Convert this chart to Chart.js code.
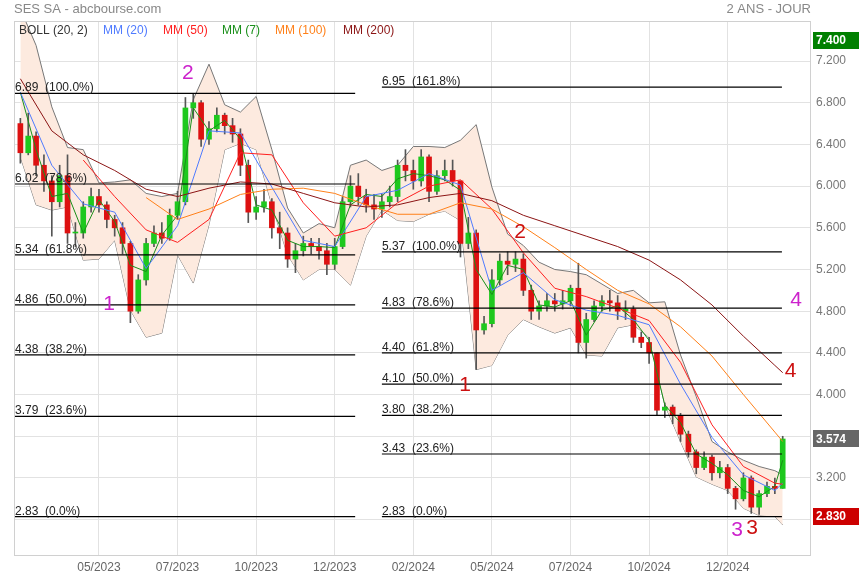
<!DOCTYPE html>
<html lang="fr">
<head>
<meta charset="UTF-8">
<title>SES SA - abcbourse.com</title>
<script src="https://cdn.jsdelivr.net/npm/chart.js"></script>
<style>
    html, body { margin: 0; padding: 0; background: #fff; }
    #wrap { width: 860px; height: 580px; }
</style>
</head>
<body>
<div id="wrap"><canvas id="chart" width="860" height="580"></canvas></div>
<script>
// x axis: one label every 10 bars (bar = about one week)
var monthTicks  = [10, 20, 30, 40, 50, 60, 70, 80, 90];
var monthLabels = ['05/2023', '07/2023', '10/2023', '12/2023', '02/2024', '05/2024', '07/2024', '10/2024', '12/2024'];
var priceTicks  = [2.8, 3.2, 3.6, 4.0, 4.4, 4.8, 5.2, 5.6, 6.0, 6.4, 6.8, 7.2];

// candles
var opens  = [6.60, 6.32, 6.48, 6.20, 6.05, 5.85, 6.10, 5.55, 5.55, 5.80,
              5.90, 5.82, 5.68, 5.60, 5.45, 4.80, 5.10, 5.45, 5.55, 5.50,
              5.72, 5.85, 6.75, 6.80, 6.45, 6.55, 6.68, 6.58, 6.50, 6.20,
              5.75, 5.80, 5.85, 5.60, 5.55, 5.30, 5.38, 5.45, 5.42, 5.38,
              5.25, 5.42, 5.85, 6.00, 5.90, 5.82, 5.78, 5.85, 5.90, 6.20,
              6.15, 6.05, 6.28, 5.95, 6.10, 6.15, 6.05, 5.45, 5.55, 4.62,
              4.68, 5.10, 5.28, 5.25, 5.30, 5.00, 4.80, 4.85, 4.90, 4.87,
              4.90, 5.02, 4.50, 4.72, 4.85, 4.90, 4.88, 4.80, 4.82, 4.55,
              4.50, 4.40, 3.85, 3.88, 3.80, 3.62, 3.45, 3.30, 3.40, 3.25,
              3.30, 3.10, 3.00, 3.20, 2.92, 3.05, 3.12, 3.10];
var highs  = [6.65, 6.70, 6.52, 6.30, 6.10, 6.20, 6.30, 5.65, 5.85, 5.98,
              5.97, 5.85, 5.72, 5.65, 5.47, 5.15, 5.50, 5.62, 5.65, 5.78,
              5.95, 6.85, 6.89, 6.82, 6.62, 6.75, 6.70, 6.65, 6.55, 6.25,
              5.90, 5.97, 5.88, 5.75, 5.60, 5.45, 5.52, 5.50, 5.50, 5.45,
              5.50, 5.90, 6.10, 6.12, 5.97, 5.92, 5.92, 6.00, 6.25, 6.35,
              6.25, 6.35, 6.30, 6.15, 6.25, 6.25, 6.05, 5.70, 5.58, 4.75,
              5.20, 5.35, 5.37, 5.37, 5.35, 5.05, 4.90, 4.97, 4.97, 5.00,
              5.05, 5.26, 4.78, 4.90, 4.95, 5.00, 4.95, 4.90, 4.85, 4.60,
              4.55, 4.40, 3.92, 3.90, 3.82, 3.65, 3.47, 3.45, 3.42, 3.36,
              3.33, 3.12, 3.25, 3.22, 3.08, 3.16, 3.20, 3.60];
var lows   = [6.22, 6.30, 6.10, 5.95, 5.52, 5.80, 5.45, 5.42, 5.50, 5.75,
              5.75, 5.60, 5.52, 5.35, 4.69, 4.78, 5.05, 5.42, 5.45, 5.48,
              5.68, 5.82, 6.65, 6.38, 6.40, 6.52, 6.50, 6.42, 6.10, 5.65,
              5.68, 5.75, 5.50, 5.40, 5.22, 5.17, 5.33, 5.35, 5.30, 5.15,
              5.20, 5.40, 5.80, 5.82, 5.75, 5.68, 5.70, 5.80, 5.85, 6.05,
              5.97, 6.00, 5.85, 5.92, 6.05, 6.00, 5.32, 5.40, 4.24, 4.58,
              4.65, 5.05, 5.15, 5.18, 4.95, 4.72, 4.72, 4.80, 4.80, 4.82,
              4.85, 4.40, 4.35, 4.70, 4.80, 4.80, 4.72, 4.72, 4.50, 4.45,
              4.30, 3.80, 3.78, 3.72, 3.55, 3.40, 3.24, 3.28, 3.18, 3.20,
              3.05, 2.90, 2.98, 2.86, 2.85, 3.02, 3.05, 3.10];
var closes = [6.32, 6.48, 6.20, 6.05, 5.85, 6.10, 5.55, 5.55, 5.80, 5.90,
              5.82, 5.68, 5.60, 5.45, 4.80, 5.10, 5.45, 5.55, 5.50, 5.72,
              5.85, 6.75, 6.80, 6.45, 6.55, 6.68, 6.58, 6.50, 6.20, 5.75,
              5.80, 5.85, 5.60, 5.55, 5.30, 5.38, 5.45, 5.42, 5.38, 5.25,
              5.42, 5.85, 6.00, 5.90, 5.82, 5.78, 5.85, 5.90, 6.20, 6.15,
              6.05, 6.28, 5.95, 6.10, 6.15, 6.05, 5.45, 5.55, 4.62, 4.68,
              5.10, 5.28, 5.25, 5.30, 5.00, 4.80, 4.85, 4.90, 4.87, 4.90,
              5.02, 4.50, 4.72, 4.85, 4.90, 4.88, 4.80, 4.82, 4.55, 4.50,
              4.40, 3.85, 3.88, 3.80, 3.62, 3.45, 3.30, 3.40, 3.25, 3.30,
              3.10, 3.00, 3.20, 2.92, 3.05, 3.12, 3.10, 3.574];

// Bollinger (20, 2) and MM (7), read every 2 bars
var bbX     = [0, 2, 4, 6, 8, 10, 12, 14, 16, 18, 20, 22, 24, 26, 28, 30, 32, 34, 36, 38,
               40, 42, 44, 46, 48, 50, 52, 54, 56, 58, 60, 62, 64, 66, 68, 70, 72, 74, 76, 78,
               80, 82, 84, 86, 88, 90, 92, 94, 96, 97];
var bbUpper = [7.70, 7.35, 6.76, 6.37, 6.35, 6.03, 6.04, 6.06, 5.93, 5.90, 5.93, 6.83, 7.17, 6.78, 6.71, 6.86, 6.35, 5.79, 5.55, 5.64,
               5.60, 6.20, 6.25, 6.15, 6.20, 6.38, 6.38, 6.37, 6.44, 6.59, 5.99, 5.54, 5.43, 5.27, 5.20, 5.18, 5.15, 5.06, 4.97, 5.00,
               4.88, 4.89, 4.38, 3.98, 3.55, 3.45, 3.37, 3.31, 3.27, 3.23];
var bbLower = [6.28, 5.82, 5.77, 5.80, 5.29, 5.30, 5.48, 4.81, 4.55, 4.59, 5.34, 5.07, 5.63, 6.35, 6.41, 6.35, 5.82, 5.34, 5.10, 5.20,
               5.20, 5.05, 5.52, 5.77, 5.67, 5.66, 5.73, 5.76, 5.67, 4.24, 4.28, 4.57, 4.72, 4.65, 4.59, 4.64, 4.38, 4.37, 4.64, 4.67,
               4.55, 3.90, 3.55, 3.21, 3.14, 3.08, 2.91, 2.84, 2.83, 2.75];
var mm7     = [6.90, 6.35, 5.90, 5.93, 5.55, 5.87, 5.66, 5.24, 5.18, 5.53, 5.72, 6.75, 6.53, 6.63, 6.45, 5.82, 5.77, 5.48, 5.42, 5.42,
               5.41, 5.82, 5.92, 5.90, 6.07, 6.12, 6.10, 6.06, 5.96, 5.20, 4.96, 5.24, 5.20, 4.86, 4.84, 4.90, 4.57, 4.81, 4.85, 4.72,
               4.52, 3.90, 3.73, 3.43, 3.34, 3.23, 3.08, 3.02, 3.12, 3.37];

// longer averages, read every 4 bars
var maX   = [0, 4, 8, 12, 16, 20, 24, 28, 32, 36, 40, 44, 48, 52, 56, 60, 64, 68, 72, 76, 80, 84, 88, 92, 96, 97];
var mm20  = [6.90, 6.20, 5.83, 5.75, 5.21, 5.62, 6.53, 6.51, 5.99, 5.48, 5.42, 5.90, 5.96, 6.12, 6.01, 5.00, 5.17, 4.91, 4.81, 4.76, 4.67, 4.10, 3.59, 3.23, 3.08, 3.15];
var mm50  = [null, null, 6.25, 5.90, 5.58, 5.46, 5.68, 6.32, 6.30, 5.84, 5.52, 5.60, 5.84, 6.00, 6.06, 5.78, 5.36, 5.02, 4.94, 4.83, 4.71, 4.31, 3.71, 3.31, 3.15, 3.14];
var mm100 = [null, null, null, null, 5.89, 5.68, 5.78, 5.92, 5.97, 5.98, 5.93, 5.82, 5.73, 5.73, 5.84, 5.78, 5.61, 5.41, 5.20, 5.00, 4.87, 4.65, 4.37, 4.00, 3.64, 3.55];
var mm200 = [7.03, 6.53, 6.30, 6.15, 5.97, 5.90, 5.98, 6.04, 6.02, 5.93, 5.84, 5.80, 5.82, 5.89, 5.93, 5.86, 5.72, 5.62, 5.52, 5.42, 5.29, 5.10, 4.86, 4.56, 4.28, 4.21];

// Fibonacci retracements
var fibLeftLevels  = [6.89, 6.02, 5.34, 4.86, 4.38, 3.79, 2.83];
var fibLeftPct     = ['100.0%', '78.6%', '61.8%', '50.0%', '38.2%', '23.6%', '0.0%'];
var fibLeftSpan    = [-0.81, 42.6];
var fibRightLevels = [6.95, 5.37, 4.83, 4.40, 4.10, 3.80, 3.43, 2.83];
var fibRightPct    = ['161.8%', '100.0%', '78.6%', '61.8%', '50.0%', '38.2%', '23.6%', '0.0%'];
var fibRightSpan   = [46.0, 96.9];

// Elliott wave counts
var waveText  = ['1', '2', '3', '4', '1', '2', '3', '4'];
var waveX     = [11.3, 21.3, 91.2, 98.7, 56.6, 63.6, 93.1, 98.0];
var waveY     = [4.87, 7.08, 2.70, 4.91, 4.09, 5.56, 2.72, 4.22];
var waveColor = ['#cc22cc', '#cc22cc', '#cc22cc', '#cc22cc', '#cc1111', '#cc1111', '#cc1111', '#cc1111'];

// price tags on the right axis
var tagValues = [7.4, 3.574, 2.83];
var tagColors = ['#008000', '#666666', '#cc0000'];

var FONT = '"Liberation Sans", Arial, sans-serif';
Chart.defaults.font.family = FONT;

function pts(xs, ys) {
    return xs.map(function (x, k) { return { x: x, y: ys[k] }; });
}
var barIdx = closes.map(function (c, i) { return i; });

var datasets = [];

// bands first, fill between upper and lower
datasets.push({ type: 'line', data: pts(bbX, bbUpper), borderColor: '#777', borderWidth: 1,
    pointRadius: 0, fill: '+1', backgroundColor: '#fdeadf', order: 10 });
datasets.push({ type: 'line', data: pts(bbX, bbLower), borderColor: '#777', borderWidth: 1,
    pointRadius: 0, fill: false, order: 10 });

// wicks and bodies
datasets.push({ type: 'bar', grouped: false, barThickness: 1, order: 6,
    data: barIdx.map(function (i) { return { x: i, y: [lows[i], highs[i]] }; }),
    backgroundColor: '#555' });
datasets.push({ type: 'bar', grouped: false, barThickness: 5, order: 5,
    data: barIdx.map(function (i) { return { x: i, y: [opens[i], closes[i]] }; }),
    backgroundColor: barIdx.map(function (i) { return closes[i] >= opens[i] ? '#1ec81e' : '#dd1111'; }),
    minBarLength: 1 });

// moving averages
var maSets = [
    [maX, mm200, '#8b1414'],
    [maX, mm100, '#ff8019'],
    [maX, mm50, '#ff1f1f'],
    [maX, mm20, '#4f7bff'],
    [bbX, mm7, '#1a8f1a']
];
maSets.forEach(function (m) {
    datasets.push({ type: 'line', data: pts(m[0], m[1]), borderColor: m[2], borderWidth: 1,
        pointRadius: 0, fill: false, order: 3 });
});

// fibonacci lines
fibLeftLevels.forEach(function (lv) {
    datasets.push({ type: 'line', data: pts(fibLeftSpan, [lv, lv]), borderColor: '#000', borderWidth: 1.2,
        pointRadius: 0, fill: false, order: 1 });
});
fibRightLevels.forEach(function (lv) {
    datasets.push({ type: 'line', data: pts(fibRightSpan, [lv, lv]), borderColor: '#000', borderWidth: 1.2,
        pointRadius: 0, fill: false, order: 1 });
});

var overlay = {
    id: 'overlay',
    afterDatasetsDraw: function (chart) {
        var ctx = chart.ctx, xs = chart.scales.x, ys = chart.scales.y;
        ctx.save();
        ctx.font = '12px ' + FONT;
        ctx.fillStyle = '#222';
        ctx.textAlign = 'left';
        ctx.textBaseline = 'alphabetic';
        fibLeftLevels.forEach(function (lv, k) {
            ctx.fillText(lv.toFixed(2) + '  (' + fibLeftPct[k] + ')', xs.getPixelForValue(fibLeftSpan[0]) + 1, ys.getPixelForValue(lv) - 2);
        });
        fibRightLevels.forEach(function (lv, k) {
            ctx.fillText(lv.toFixed(2) + '  (' + fibRightPct[k] + ')', xs.getPixelForValue(fibRightSpan[0]), ys.getPixelForValue(lv) - 2);
        });
        ctx.font = '21px ' + FONT;
        ctx.textAlign = 'center';
        ctx.textBaseline = 'middle';
        waveText.forEach(function (t, k) {
            ctx.fillStyle = waveColor[k];
            ctx.fillText(t, xs.getPixelForValue(waveX[k]), ys.getPixelForValue(waveY[k]));
        });
        ctx.restore();
    },
    afterDraw: function (chart) {
        var ctx = chart.ctx, a = chart.chartArea, ys = chart.scales.y;
        ctx.save();
        ctx.strokeStyle = '#d0d0d0';
        ctx.lineWidth = 1;
        ctx.strokeRect(a.left + 0.5, a.top + 0.5, a.right - a.left - 1, a.bottom - a.top);

        ctx.font = '13px ' + FONT;
        ctx.fillStyle = '#888';
        ctx.textBaseline = 'middle';
        ctx.textAlign = 'left';
        ctx.fillText('SES SA - abcbourse.com', 14, 9);
        ctx.textAlign = 'right';
        ctx.fillText('2 ANS - JOUR', 811, 9);

        // legend row inside the plot
        var legend = [['BOLL (20, 2)', '#333', 19], ['MM (20)', '#4f7bff', 103], ['MM (50)', '#ff1f1f', 163],
                      ['MM (7)', '#1a8f1a', 222], ['MM (100)', '#ff8019', 275], ['MM (200)', '#8b1414', 343]];
        ctx.font = '12px ' + FONT;
        ctx.textAlign = 'left';
        legend.forEach(function (l) {
            ctx.fillStyle = l[1];
            ctx.fillText(l[0], l[2], 31);
        });

        // value tags
        ctx.font = 'bold 12px ' + FONT;
        tagValues.forEach(function (v, k) {
            var y = ys.getPixelForValue(v);
            ctx.fillStyle = tagColors[k];
            ctx.fillRect(813, Math.round(y - 8.5), 46, 17);
            ctx.fillStyle = '#fff';
            ctx.fillText(v.toFixed(3), 816, y + 0.5);
        });
        ctx.restore();
    }
};

new Chart(document.getElementById('chart'), {
    type: 'line',
    data: { datasets: datasets },
    plugins: [overlay],
    options: {
        responsive: false,
        animation: false,
        events: [],
        layout: { padding: { left: 14, top: 21, right: 0, bottom: 0 } },
        plugins: { legend: { display: false }, tooltip: { enabled: false } },
        elements: { line: { tension: 0 } },
        scales: {
            x: {
                type: 'linear',
                offset: false,
                min: -0.81,
                max: 100.6,
                afterBuildTicks: function (s) {
                    s.ticks = monthTicks.map(function (v) { return { value: v }; });
                },
                afterFit: function (s) { s.height = 25; },
                ticks: {
                    autoSkip: false,
                    maxRotation: 0,
                    padding: 5,
                    color: '#666',
                    font: { size: 12 },
                    callback: function (v) { return monthLabels[monthTicks.indexOf(v)]; }
                },
                grid: { color: '#e2e2e2', drawTicks: false, offset: false },
                border: { display: false }
            },
            y: {
                position: 'right',
                min: 2.461,
                max: 7.584,
                afterBuildTicks: function (s) {
                    s.ticks = priceTicks.map(function (v) { return { value: v }; });
                },
                afterFit: function (s) { s.width = 49; },
                ticks: {
                    padding: 5,
                    color: '#777',
                    font: { size: 12 },
                    callback: function (v) { return v.toFixed(3); }
                },
                grid: { color: '#e2e2e2', drawTicks: false },
                border: { display: false }
            }
        }
    }
});
</script>
</body>
</html>
